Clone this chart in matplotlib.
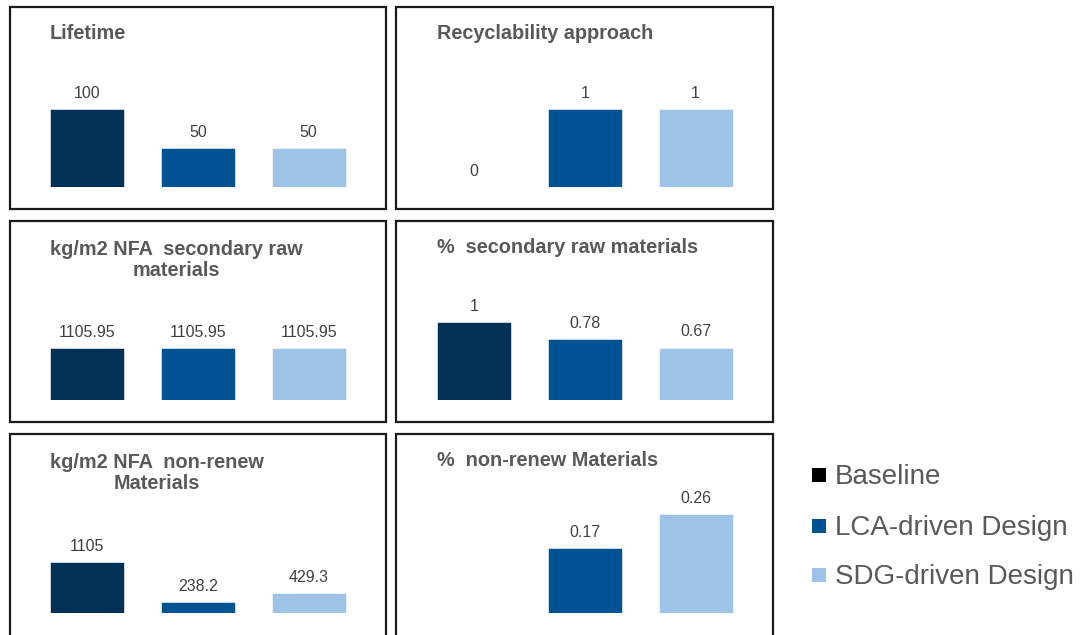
import numpy as np
import matplotlib
matplotlib.use("Agg")
import matplotlib.pyplot as plt
from matplotlib.patches import Rectangle

# ---- data -------------------------------------------------------------
series = ["Baseline", "LCA-driven Design", "SDG-driven Design"]
bar_colors = ["#033156", "#005393", "#9DC3E6"]
legend_colors = ["#000000", "#005393", "#9DC3E6"]

titles = [
    "Lifetime",
    "Recyclability approach",
    "kg/m2 NFA  secondary raw\nmaterials",
    "%  secondary raw materials",
    "kg/m2 NFA  non-renew\nMaterials",
    "%  non-renew Materials",
]

lifetime = [100, 50, 50]
recyclability = [0, 1, 1]
kg_secondary = [1105.95, 1105.95, 1105.95]
pct_secondary = [1, 0.78, 0.67]
kg_nonrenew = [1105, 238.2, 429.3]
pct_nonrenew = [np.nan, 0.17, 0.26]

panel_values = [lifetime, recyclability, kg_secondary,
                pct_secondary, kg_nonrenew, pct_nonrenew]
y_max = [141, 1.41, 2340, 1.41, 2383, 0.289]

# ---- layout (pixel units) ---------------------------------------------
W, H = 1088, 635
plt.rcParams["font.family"] = ["Liberation Sans", "DejaVu Sans"]

fig = plt.figure(figsize=(W / 100, H / 100), dpi=100)
fig.patch.set_facecolor("white")

col_left = [10, 396]
col_right = [386, 773]
row_top = [7, 221, 434]
row_bottom = [209, 422, 680]
baseline = [187, 400, 613]
first_center = [87, 474]
pitch = 110.8
plot_h = 110
title_x = [50, 437]
title_base = [39, 253, 466]
title_size = 14.3
title_line = 23.3  # px between title lines

title_color = "#595959"
label_color = "#404040"


def fx(x):
    return x / W


def fy(y):
    return 1 - y / H


for i, (vals, title, ymax) in enumerate(zip(panel_values, titles, y_max)):
    r, c = divmod(i, 2)

    # panel frame
    fig.patches.append(Rectangle(
        (fx(col_left[c]), fy(row_bottom[r])),
        (col_right[c] - col_left[c]) / W,
        (row_bottom[r] - row_top[r]) / H,
        transform=fig.transFigure, fill=False,
        edgecolor="#1a1a1a", linewidth=1.6, zorder=0))

    # panel title; va="baseline" anchors the last line, so shift down
    n_lines = title.count("\n") + 1
    linespacing = title_line / (title_size * 100 / 72)
    fig.text(fx(title_x[c]), fy(title_base[r] + (n_lines - 1) * title_line),
             title, ha="left", va="baseline", multialignment="center",
             fontsize=title_size, fontweight="bold", color=title_color,
             linespacing=linespacing)

    # bars
    left = first_center[c] - pitch / 2
    ax = fig.add_axes([fx(left), fy(baseline[r]),
                       3 * pitch / W, plot_h / H])
    x = np.arange(len(vals))
    ax.bar(x, vals, width=74 / pitch, color=bar_colors,
           edgecolor="white", linewidth=0.4)
    ax.set_xlim(-0.5, 2.5)
    ax.set_ylim(0, ymax)
    ax.axis("off")

    for xi, v in zip(x, vals):
        if np.isnan(v):
            continue
        ax.annotate(f"{v:g}", (xi, v), xytext=(0, 8.2),
                    textcoords="offset points", ha="center",
                    va="baseline", fontsize=11.5, color=label_color,
                    annotation_clip=False)

# legend
leg_base = [484, 535, 584]
for name, col, yb in zip(series, legend_colors, leg_base):
    fig.patches.append(Rectangle(
        (fx(812), fy(yb - 2)), 14 / W, 14 / H,
        transform=fig.transFigure, facecolor=col, edgecolor="none"))
    fig.text(fx(835), fy(yb), name, ha="left", va="baseline",
             fontsize=20, color=title_color)

fig.savefig("out.png", dpi=100)
